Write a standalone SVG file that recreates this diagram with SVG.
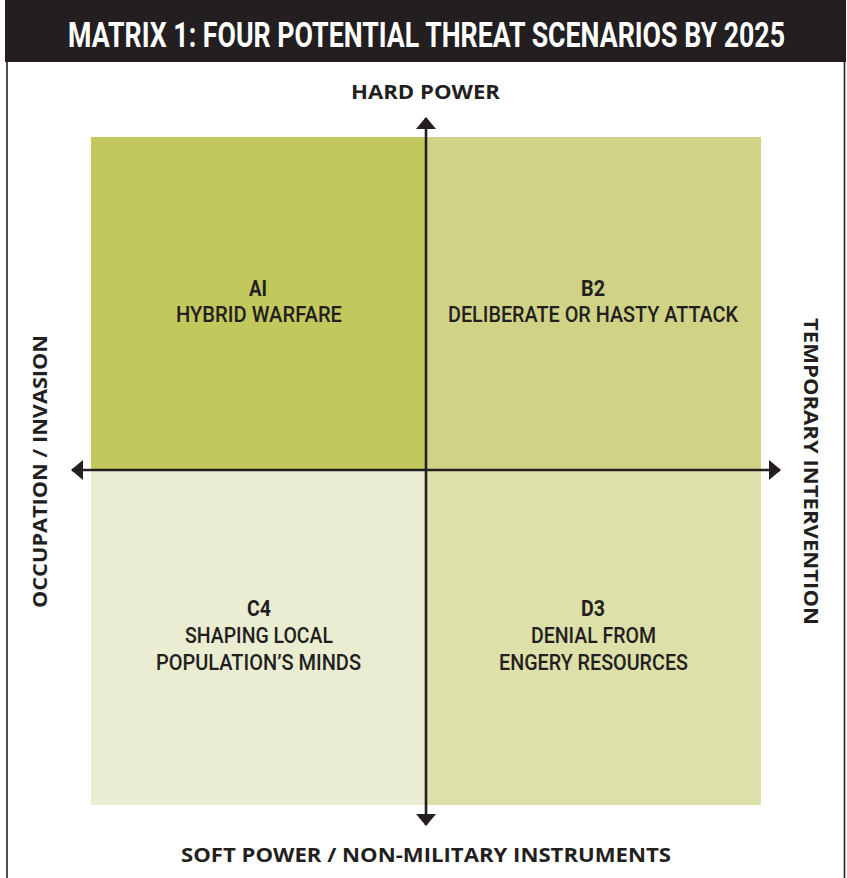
<svg xmlns="http://www.w3.org/2000/svg" width="847" height="878" viewBox="0 0 847 878">
  <style>
    .title { font-family: Roboto, "DejaVu Sans", sans-serif; font-weight: 700; font-size: 35px; fill: #ffffff; }
    .q { font-family: Roboto, "DejaVu Sans", sans-serif; font-weight: 500; font-size: 22px; fill: #231f20; text-anchor: middle; }
    .qb { font-weight: 700; }
    .axis { font-family: "Open Sans", "Noto Sans", sans-serif; font-weight: 700; font-size: 20px; fill: #231f20; text-anchor: middle; }
    .ax { stroke: #231f20; stroke-width: 2.6; fill: none; }
  </style>
  <defs>
    <marker id="arrow" viewBox="0 0 12 20" refX="11" refY="10" markerWidth="12" markerHeight="20" markerUnits="userSpaceOnUse" orient="auto">
      <path d="M0,0 L12,10 L0,20 Z" fill="#231f20"/>
    </marker>
  </defs>
  <rect x="0" y="0" width="847" height="878" fill="#ffffff"/>
  <g id="frame">
    <rect x="5" y="0" width="841" height="62" fill="#231f20"/>
    <line x1="7" y1="62" x2="7" y2="878" stroke="#231f20" stroke-width="1.6"/>
    <line x1="844.5" y1="62" x2="844.5" y2="878" stroke="#231f20" stroke-width="1.6"/>
    <text class="title" transform="translate(426.5,47) scale(0.75,1)" x="0" y="0" text-anchor="middle" textLength="956" lengthAdjust="spacingAndGlyphs">MATRIX 1: FOUR POTENTIAL THREAT SCENARIOS BY 2025</text>
  </g>
  <g id="quadrant-a1">
    <rect x="91" y="137" width="335" height="333" fill="#c3c85d"/>
    <text class="q qb" x="258" y="296" textLength="18" lengthAdjust="spacingAndGlyphs">AI</text>
    <text class="q" x="259" y="322" textLength="166" lengthAdjust="spacingAndGlyphs">HYBRID WARFARE</text>
  </g>
  <g id="quadrant-b2">
    <rect x="426" y="137" width="335" height="333" fill="#d0d386"/>
    <text class="q qb" x="593" y="296" textLength="24" lengthAdjust="spacingAndGlyphs">B2</text>
    <text class="q" x="593" y="322" textLength="290" lengthAdjust="spacingAndGlyphs">DELIBERATE OR HASTY ATTACK</text>
  </g>
  <g id="quadrant-c4">
    <rect x="91" y="470" width="335" height="335" fill="#eaedd2"/>
    <text class="q qb" x="259" y="616" textLength="24" lengthAdjust="spacingAndGlyphs">C4</text>
    <text class="q" x="259" y="643" textLength="148" lengthAdjust="spacingAndGlyphs">SHAPING LOCAL</text>
    <text class="q" x="258.5" y="670" textLength="205" lengthAdjust="spacingAndGlyphs">POPULATION’S MINDS</text>
  </g>
  <g id="quadrant-d3">
    <rect x="426" y="470" width="335" height="335" fill="#dde0a8"/>
    <text class="q qb" x="593" y="616" textLength="24" lengthAdjust="spacingAndGlyphs">D3</text>
    <text class="q" x="593.5" y="643" textLength="125" lengthAdjust="spacingAndGlyphs">DENIAL FROM</text>
    <text class="q" x="593.5" y="670" textLength="189" lengthAdjust="spacingAndGlyphs">ENGERY RESOURCES</text>
  </g>
  <g id="connectors">
    <line class="ax" x1="426" y1="470" x2="426" y2="118" marker-end="url(#arrow)"/>
    <line class="ax" x1="426" y1="470" x2="426" y2="825" marker-end="url(#arrow)"/>
    <line class="ax" x1="426" y1="470" x2="72" y2="470" marker-end="url(#arrow)"/>
    <line class="ax" x1="426" y1="470" x2="780" y2="470" marker-end="url(#arrow)"/>
  </g>
  <g id="label-top">
    <text class="axis" x="425.5" y="99" textLength="149" lengthAdjust="spacingAndGlyphs">HARD POWER</text>
  </g>
  <g id="label-bottom">
    <text class="axis" x="426" y="862" textLength="490" lengthAdjust="spacingAndGlyphs">SOFT POWER / NON-MILITARY INSTRUMENTS</text>
  </g>
  <g id="label-left">
    <text class="axis" transform="translate(47,471.5) rotate(-90)" x="0" y="0" textLength="273" lengthAdjust="spacingAndGlyphs">OCCUPATION / INVASION</text>
  </g>
  <g id="label-right">
    <text class="axis" transform="translate(804,471.5) rotate(90)" x="0" y="0" textLength="307" lengthAdjust="spacingAndGlyphs">TEMPORARY INTERVENTION</text>
  </g>
</svg>
